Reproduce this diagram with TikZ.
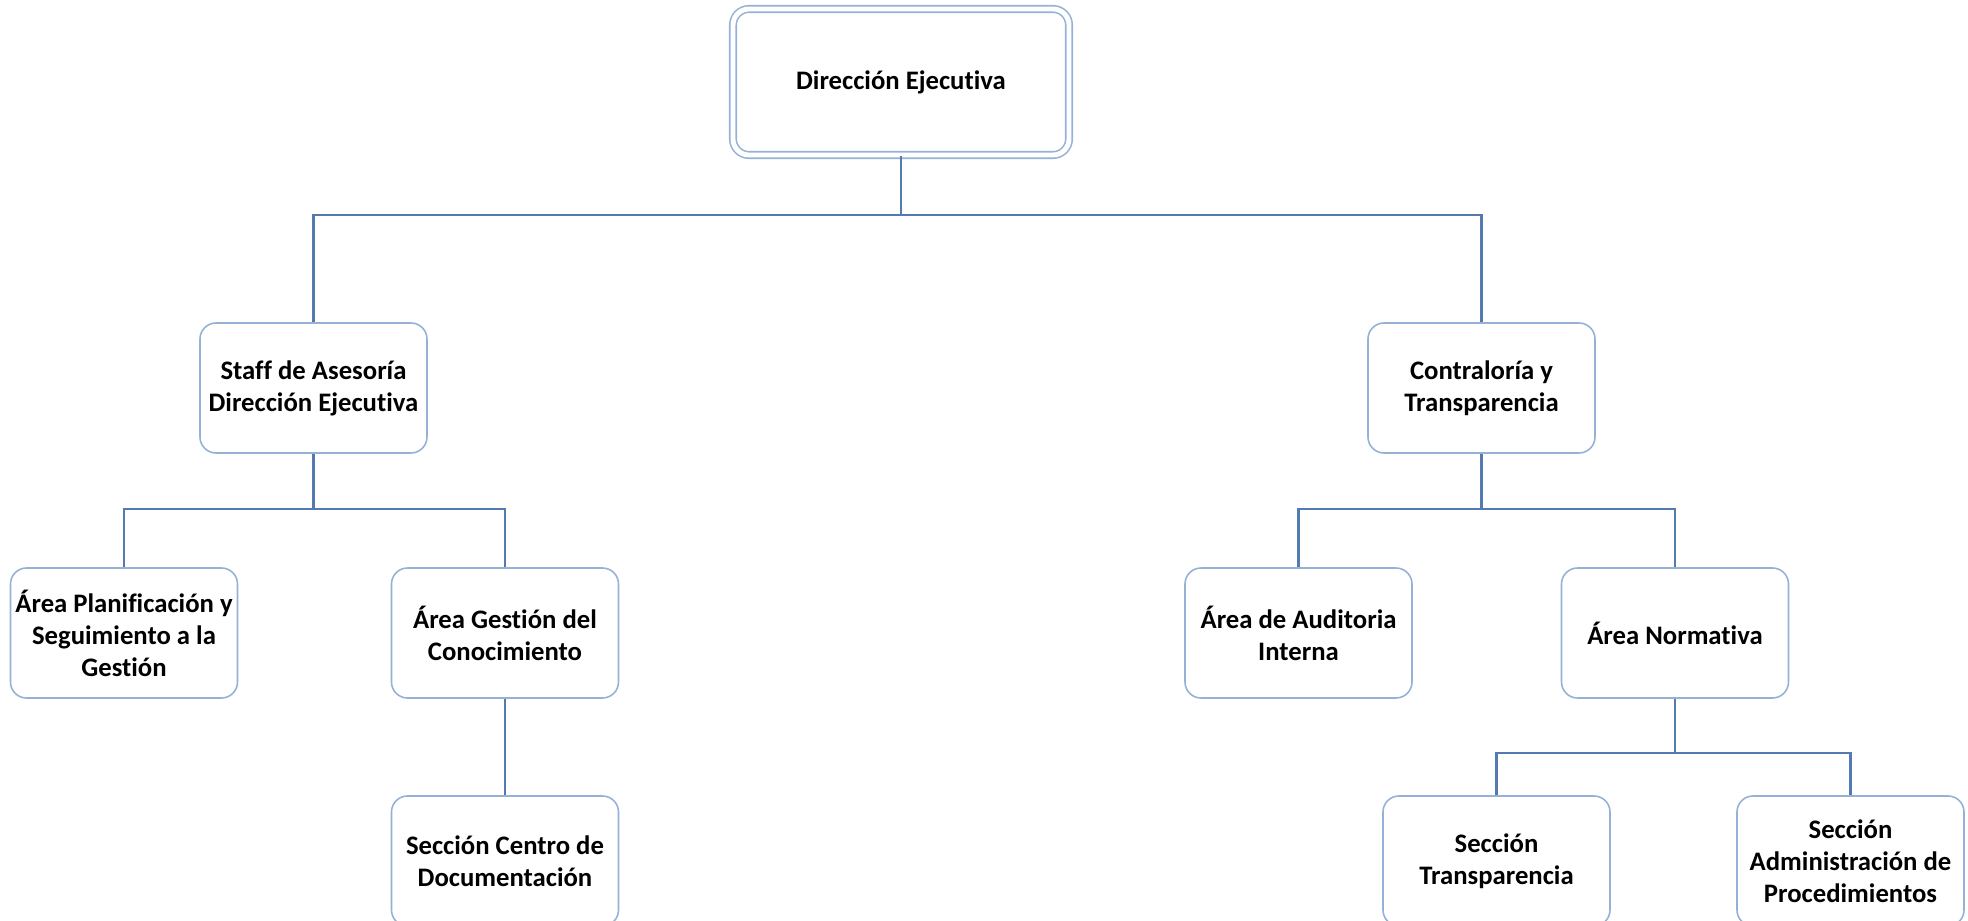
\documentclass[tikz,border=0pt]{standalone}
\usepackage{fontspec}
\setmainfont{Carlito}[Ligatures=NoCommon]
\definecolor{boxline}{RGB}{150,177,214}
\definecolor{linkline}{RGB}{84,122,178}
\begin{document}
\begin{tikzpicture}
			[box/.style={rectangle,rounded corners=0.16cm,draw=boxline,line width=0.45pt,
				minimum width=2.27cm,minimum height=1.30cm,inner sep=1pt,align=center,
				font=\fontsize{7.6}{9.1}\selectfont\bfseries},
			headbox/.style={box,double=white,double distance=1.4pt,minimum width=3.36cm,minimum height=1.46cm},
			link/.style={draw=linkline,line width=0.6pt}]
			\useasboundingbox (0,0) rectangle (19.68,-9.21);

			\node[headbox] (dir) at (9.01,-0.82) {Dirección Ejecutiva};

			\node[box] (staff) at (3.135,-3.88) {Staff de Asesoría\\Dirección Ejecutiva};
			\node[box] (contra) at (14.815,-3.88) {Contraloría y\\Transparencia};

			\node[box] (plan) at (1.24,-6.33) {Área Planificación y\\Seguimiento a la\\Gestión};
			\node[box] (gestion) at (5.05,-6.33) {Área Gestión del\\Conocimiento};
			\node[box] (audit) at (12.985,-6.33) {Área de Auditoria\\Interna};
			\node[box] (norma) at (16.75,-6.33) {Área Normativa};

			\node[box] (centro) at (5.05,-8.61) {Sección Centro de\\Documentación};
			\node[box] (transp) at (14.965,-8.61) {Sección\\Transparencia};
			\node[box] (admin) at (18.505,-8.61) {Sección\\Administración de\\Procedimientos};

			\coordinate (b1) at (9.01,-2.15);
			\coordinate (b2) at (3.135,-5.09);
			\coordinate (b3) at (14.815,-5.09);
			\coordinate (b4) at (16.75,-7.53);

			\draw[link] (dir.south) -- (b1) -| (staff.north);
			\draw[link] (b1) -| (contra.north);
			\draw[link] (staff.south) -- (b2) -| (plan.north);
			\draw[link] (b2) -| (gestion.north);
			\draw[link] (gestion.south) -- (centro.north);
			\draw[link] (contra.south) -- (b3) -| (audit.north);
			\draw[link] (b3) -| (norma.north);
			\draw[link] (norma.south) -- (b4) -| (transp.north);
			\draw[link] (b4) -| (admin.north);
		\end{tikzpicture}
\end{document}
